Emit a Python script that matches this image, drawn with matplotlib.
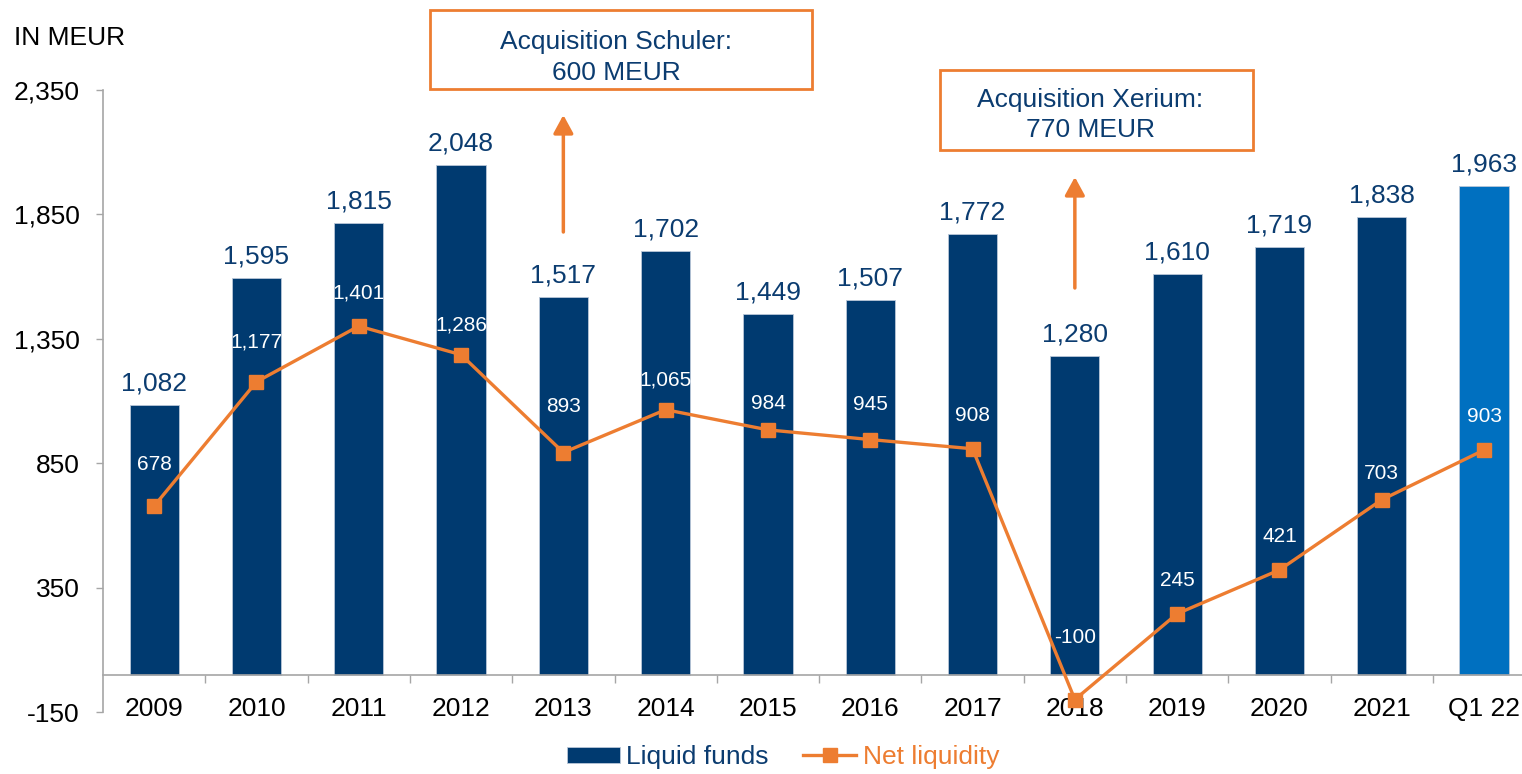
import matplotlib
matplotlib.use('Agg')
import matplotlib.pyplot as plt
from matplotlib.patches import Rectangle
from matplotlib.ticker import FixedLocator, FuncFormatter

# ---- data ----
categories = ['2009', '2010', '2011', '2012', '2013', '2014', '2015',
              '2016', '2017', '2018', '2019', '2020', '2021', 'Q1 22']
liquid_funds = [1082, 1595, 1815, 2048, 1517, 1702, 1449, 1507, 1772, 1280, 1610, 1719, 1838, 1963]
net_liquidity = [678, 1177, 1401, 1286, 893, 1065, 984, 945, 908, -100, 245, 421, 703, 903]
yticks = [-150, 350, 850, 1350, 1850, 2350]
series_names = ['Liquid funds', 'Net liquidity']
unit_label = 'IN MEUR'
notes = ['Acquisition Schuler:\n600 MEUR', 'Acquisition Xerium:\n770 MEUR']
note_categories = ['2013', '2018']

# ---- style ----
NAVY = '#003A70'
LIGHT = '#0070C0'
ORANGE = '#ED7D31'
TEXT = '#0B3C70'
GRAY = '#A6A6A6'
FS = 19
# pixel offset of each net-liquidity label above its point
label_offsets_px = [39, 38, 31, 28, 44, 28, 24, 33, 31, 60, 31, 31, 24, 32]

plt.rcParams['font.family'] = ['Liberation Sans', 'DejaVu Sans']

W, H = 1522, 774
fig = plt.figure(figsize=(W / 100, H / 100), dpi=100)
ax = fig.add_axes([103 / W, (H - 712) / H, (W - 103) / W, (712 - 90) / H])

x = list(range(len(categories)))
bar_colors = [NAVY] * (len(categories) - 1) + [LIGHT]
bars = ax.bar(x, liquid_funds, width=0.48, color=bar_colors, edgecolor='#B9C7D8',
              linewidth=0.6, zorder=2, label=series_names[0])
line, = ax.plot(x, net_liquidity, color=ORANGE, lw=2.4, marker='s', ms=10,
                zorder=3, label=series_names[1])

ax.set_ylim(yticks[0], yticks[-1])
ax.set_xlim(-0.5, -0.5 + (W - 103) / 102.3)

# bar value labels
for i, v in enumerate(liquid_funds):
    ax.annotate(f'{v:,}', (i, v), xytext=(0, 7), textcoords='offset points',
                ha='center', va='bottom', fontsize=FS, color=TEXT, zorder=4)

# line value labels
for i, v in enumerate(net_liquidity):
    ax.annotate(f'{v:,}', (i, v), xytext=(0, (label_offsets_px[i] + 2) * 0.72),
                textcoords='offset points', ha='center', va='center',
                fontsize=15, color='white', zorder=5)

# axes styling
for s in ['top', 'right']:
    ax.spines[s].set_visible(False)
ax.spines['bottom'].set_position(('data', 0))
ax.spines['bottom'].set_color(GRAY)
ax.spines['left'].set_color(GRAY)
ax.spines['bottom'].set_linewidth(1.2)
ax.spines['left'].set_linewidth(1.2)

ax.yaxis.set_major_locator(FixedLocator(yticks))
ax.yaxis.set_major_formatter(FuncFormatter(lambda v, p: f'{int(v):,}'))
ax.tick_params(axis='y', length=5, width=1, color=GRAY, pad=12, labelsize=FS, labelcolor='black')

ax.set_xticks(x)
ax.set_xticklabels(categories)
ax.set_xticks([i + 0.5 for i in x[:-1]], minor=True)
ax.tick_params(axis='x', which='major', length=0, pad=16, labelsize=FS, labelcolor='black')
ax.tick_params(axis='x', which='minor', length=6, width=1, color=GRAY, direction='out')

fig.text(14 / W, 1 - 38 / H, unit_label, ha='left', va='center', fontsize=FS, color='black')

# legend
leg = fig.legend([bars, line], series_names, loc='center', bbox_to_anchor=(783 / W, 1 - 757 / H),
                 ncol=2, frameon=False, fontsize=FS, handlelength=2.0, handleheight=0.55,
                 handletextpad=0.25, columnspacing=1.3)
for t, c in zip(leg.get_texts(), [TEXT, ORANGE]):
    t.set_color(c)

# annotation boxes (figure pixel geometry)
boxes = [(430, 10, 812, 89, 616, 57.5), (940, 70, 1253, 150, 1090, 115)]
for (x0, y0, x1, y1, tx, ty), note in zip(boxes, notes):
    fig.patches.append(Rectangle((x0 / W, 1 - y1 / H), (x1 - x0) / W, (y1 - y0) / H,
                                 transform=fig.transFigure, facecolor='white',
                                 edgecolor=ORANGE, lw=2, zorder=5))
    fig.text(tx / W, 1 - ty / H, note, ha='center', va='center', fontsize=FS,
             color=TEXT, linespacing=1.35, zorder=6)

# arrows
arrow_px = [(232, 115), (288, 177)]
for cat, (yb, yt) in zip(note_categories, arrow_px):
    xi = categories.index(cat)
    ax.annotate('', xy=(xi, H - yt), xytext=(xi, H - yb),
                xycoords=('data', 'figure pixels'), textcoords=('data', 'figure pixels'),
                arrowprops=dict(arrowstyle='-|>,head_length=0.55,head_width=0.3',
                                color=ORANGE, lw=2.5, mutation_scale=20,
                                shrinkA=0, shrinkB=0),
                annotation_clip=False)

fig.savefig('out.png', dpi=100)
